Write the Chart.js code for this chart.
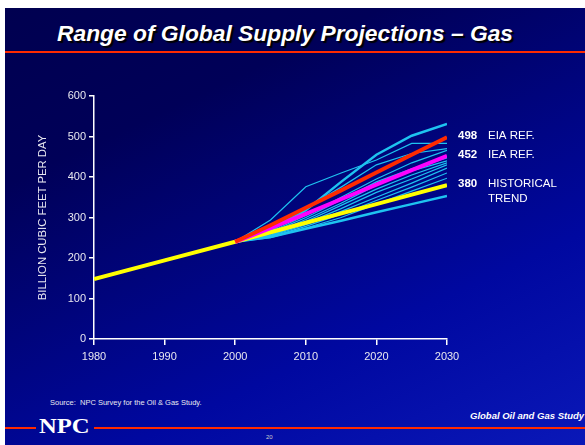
<!DOCTYPE html>
<html lang="en">
<head>
  <meta charset="UTF-8">
  <title>Range of Global Supply Projections - Gas</title>
  <script src="https://cdn.jsdelivr.net/npm/chart.js@4.4.0/dist/chart.umd.min.js"></script>
  <style>
    body { margin: 0; background: #fff; }
    #page { position: relative; width: 585px; height: 445px; overflow: hidden; background: #fff; }
    #slide { position: absolute; left: 5px; top: 8px; width: 580px; height: 437px;
             background: linear-gradient(155deg, #000050 0%, #000058 25%, #0008a0 70%, #0a18b8 100%); }
    #title { position: absolute; left: 57px; top: 20px; color: #fff; font: italic bold 22.8px 'Liberation Sans', Arial, sans-serif;
             text-shadow: 2px 2px 1px #000; white-space: nowrap; }
    .red { position: absolute; background: #ff2a00; }
    #npc { position: absolute; left: 39px; top: 413px; color: #fff; font: bold 22px 'Liberation Serif', 'Times New Roman', serif;
           transform: scaleX(1.12); transform-origin: left top; }
    #source { position: absolute; left: 50px; top: 398px; color: #e8e8f0; font: 7.5px 'Liberation Sans', Arial, sans-serif; }
    #study { position: absolute; left: 470px; top: 410px; color: #fff; font: italic bold 9.5px 'Liberation Sans', Arial, sans-serif; white-space: nowrap; }
    #pagenum { position: absolute; left: 266px; top: 434px; color: #ccc; font: 6px 'Liberation Sans', Arial, sans-serif; }
    #myChart { position: absolute; left: 0; top: 0; }
  </style>
</head>
<body>
<div id="page">
  <div id="slide"></div>
  <div id="title">Range of Global Supply Projections – Gas</div>
  <div class="red" style="left:5px; top:51px; width:580px; height:2px;"></div>
  <div class="red" style="left:5px; top:427px; width:31px; height:2px;"></div>
  <div class="red" style="left:94px; top:427px; width:491px; height:2px;"></div>
  <div id="npc">NPC</div>
  <div id="source">Source:&nbsp; NPC Survey for the Oil &amp; Gas Study.</div>
  <div id="study">Global Oil and Gas Study</div>
  <div id="pagenum">20</div>
  <canvas id="myChart" width="585" height="445"></canvas>
</div>

<script>
    // historical trend and reference cases
    const histYears = [1980, 1990, 2000, 2010, 2020, 2030];
    const histTrend = [148, 194, 240, 287, 333, 380];
    const projYears = [2000, 2005, 2010, 2015, 2020, 2025, 2030];
    const eiaRef = [240, 281, 324, 367, 411, 455, 498];
    const ieaRef = [240, 274, 309, 345, 381, 417, 452];

    // NPC survey projections (cyan bundle)
    const surveyRuns = [
      [240, 268, 318, 388, 455, 502, 531],
      [240, 294, 376, 410, 442, 483, 483],
      [240, 272, 322, 375, 430, 458, 470],
      [240, 265, 305, 350, 395, 435, 466],
      [240, 262, 300, 343, 388, 420, 447],
      [240, 258, 295, 335, 380, 415, 440],
      [240, 256, 290, 330, 370, 405, 435],
      [240, 255, 286, 322, 362, 395, 430],
      [240, 254, 282, 315, 350, 385, 422],
      [240, 252, 278, 308, 342, 375, 410],
      [240, 250, 274, 300, 333, 365, 397],
      [240, 252, 272, 292, 313, 333, 353]
    ];

    const refNames = ['EIA REF.', 'IEA REF.', 'HISTORICAL'];

    function pts(xs, ys) {
      return xs.map((x, i) => ({x: x, y: ys[i]}));
    }

    const datasets = [
      {data: pts(projYears, eiaRef), borderColor: '#ff2a00', borderWidth: 4},
      {data: pts(projYears, ieaRef), borderColor: '#ff00ff', borderWidth: 4},
      {data: pts(histYears, histTrend), borderColor: '#ffff00', borderWidth: 4}
    ];
    surveyRuns.forEach((run, i) => {
      const thick = (i === 0 || i === surveyRuns.length - 1);
      datasets.push({data: pts(projYears, run), borderColor: '#1ec3f0', borderWidth: thick ? 2.5 : 1.2});
    });

    const endLabels = {
      id: 'endLabels',
      afterDraw: (chart) => {
        const ctx = chart.ctx;
        const y = chart.scales.y;
        const ends = [eiaRef[eiaRef.length - 1], ieaRef[ieaRef.length - 1], histTrend[histTrend.length - 1]];
        ctx.save();
        ctx.fillStyle = '#fff';
        ctx.textBaseline = 'middle';
        ends.forEach((v, i) => {
          const py = y.getPixelForValue(v) - 1.5;
          ctx.font = 'bold 11.5px "Liberation Sans", Arial, sans-serif';
          ctx.fillText(String(v), 458, py);
          ctx.font = '11.5px "Liberation Sans", Arial, sans-serif';
          ctx.fillText(refNames[i], 488, py);
          if (i === 2) ctx.fillText('TREND', 488, py + 15.5);
        });
        ctx.restore();
      }
    };

    const axisFont = {size: 11, family: "'Liberation Sans', Arial, sans-serif"};
    const ctx = document.getElementById('myChart');
    const myChart = new Chart(ctx, {
      type: 'line',
      data: {datasets: datasets},
      plugins: [endLabels],
      options: {
        responsive: false,
        animation: false,
        layout: {padding: {left: 36, right: 138, top: 96, bottom: 76}},
        elements: {point: {radius: 0}, line: {tension: 0}},
        plugins: {legend: {display: false}, tooltip: {enabled: false}},
        scales: {
          x: {
            type: 'linear', min: 1980, max: 2030,
            ticks: {stepSize: 10, color: '#e8e8f0', font: axisFont, padding: 5,
                    callback: (v) => String(v)},
            grid: {drawOnChartArea: false, tickLength: 6, color: '#fff', lineWidth: 1.5},
            border: {color: '#fff', width: 1.5},
            afterFit: (s) => { s.height = 30; }
          },
          y: {
            min: 0, max: 600,
            ticks: {stepSize: 100, color: '#e8e8f0', font: axisFont, padding: 3},
            grid: {drawOnChartArea: false, tickLength: 5, color: '#fff', lineWidth: 1.5},
            border: {color: '#fff', width: 1.5},
            title: {display: true, text: 'BILLION CUBIC FEET PER DAY', color: '#e8e8f0',
                    font: {size: 11.3, family: "'Liberation Sans', Arial, sans-serif"}, padding: 0},
            afterFit: (s) => { s.width = 58; }
          }
        }
      }
    });
</script>
</body>
</html>
